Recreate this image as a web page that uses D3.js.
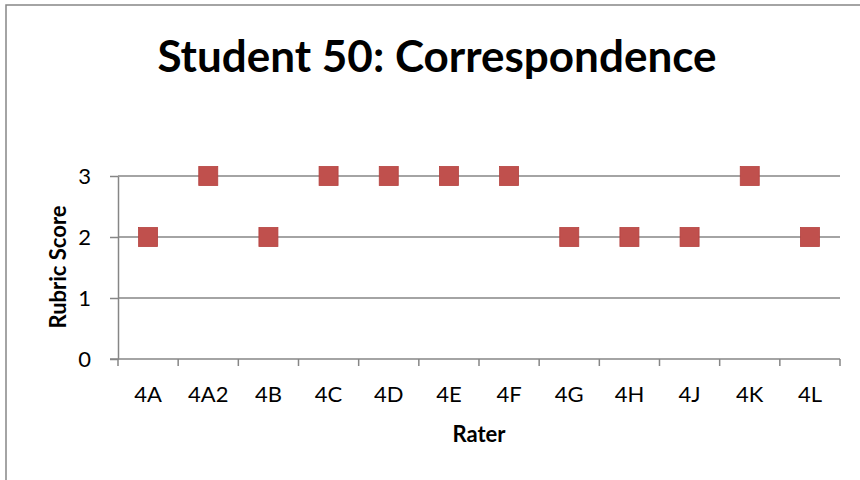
<!DOCTYPE html>
<html>
<head>
<meta charset="utf-8">
<script src="https://cdn.jsdelivr.net/npm/d3@7"></script>
<style>
  body { margin: 0; background: #fff; }
  svg { display: block; font-family: Lato, "Open Sans", sans-serif; }
</style>
</head>
<body>
<svg id="chart" width="860" height="480"></svg>
<script>
// Rubric scores given by each rater
const raters = ["4A", "4A2", "4B", "4C", "4D", "4E", "4F", "4G", "4H", "4J", "4K", "4L"];
const scores = [2, 3, 2, 3, 3, 3, 3, 2, 2, 2, 3, 2];
const yTicks = [0, 1, 2, 3];
const titleText = "Student 50: Correspondence";
const xTitle = "Rater";
const yTitle = "Rubric Score";

const svg = d3.select("#chart");
const plot = { left: 118, right: 840, top: 176, bottom: 359 };
const axisColor = "#868686";
const labelSize = 22;

// chart frame
svg.append("rect")
  .attr("x", 6).attr("y", 5).attr("width", 900).attr("height", 520)
  .attr("fill", "#fff").attr("stroke", axisColor).attr("stroke-width", 1.5);

const x = d3.scaleBand().domain(raters).range([plot.left, plot.right]);
const y = d3.scaleLinear().domain([0, 3]).range([plot.bottom, plot.top]);

// horizontal gridlines
svg.append("g")
  .selectAll("line").data(yTicks.filter(d => d > 0)).join("line")
  .attr("x1", plot.left).attr("x2", plot.right)
  .attr("y1", d => y(d)).attr("y2", d => y(d))
  .attr("stroke", axisColor).attr("stroke-width", 1.5);

// y axis
const yAxis = svg.append("g")
  .attr("transform", `translate(${plot.left},0)`)
  .call(d3.axisLeft(y).tickValues(yTicks).tickSize(8).tickSizeOuter(0).tickPadding(19).tickFormat(d3.format("d")));
yAxis.attr("font-family", null).attr("font-size", null);
yAxis.select(".domain").attr("stroke", axisColor).attr("stroke-width", 1.5);
yAxis.selectAll(".tick line").attr("stroke", axisColor).attr("stroke-width", 1.5);
yAxis.selectAll(".tick text").attr("font-size", labelSize).attr("fill", "#000");

// x axis with ticks at category boundaries
const xAxisG = svg.append("g").attr("transform", `translate(0,${plot.bottom})`);
xAxisG.append("line")
  .attr("x1", plot.left - 8).attr("x2", plot.right)
  .attr("stroke", axisColor).attr("stroke-width", 1.5);
const bounds = raters.map(r => x(r)).concat([x(raters[raters.length - 1]) + x.bandwidth()]);
xAxisG.selectAll("line.tk").data(bounds).join("line").attr("class", "tk")
  .attr("x1", d => d).attr("x2", d => d).attr("y1", 0).attr("y2", 7)
  .attr("stroke", axisColor).attr("stroke-width", 1.5);
xAxisG.selectAll("text").data(raters).join("text")
  .attr("x", d => x(d) + x.bandwidth() / 2)
  .attr("y", 43)
  .attr("text-anchor", "middle")
  .attr("font-size", labelSize)
  .attr("fill", "#000")
  .text(d => d);

// markers
const size = 19;
svg.append("g").selectAll("rect").data(raters).join("rect")
  .attr("x", d => x(d) + x.bandwidth() / 2 - size / 2)
  .attr("y", (d, i) => y(scores[i]) - size / 2)
  .attr("width", size).attr("height", size)
  .attr("fill", "#C0504D")
  .attr("stroke", "#B5413F").attr("stroke-width", 0.8);

// titles
svg.append("text")
  .attr("x", 437).attr("y", 72)
  .attr("text-anchor", "middle")
  .attr("font-size", 44).attr("font-weight", "bold")
  .attr("fill", "#000")
  .text(titleText);

svg.append("text")
  .attr("x", 479).attr("y", 442)
  .attr("text-anchor", "middle")
  .attr("font-size", labelSize).attr("font-weight", "bold")
  .attr("fill", "#000")
  .text(xTitle);

svg.append("text")
  .attr("transform", `translate(66,267) rotate(-90)`)
  .attr("text-anchor", "middle")
  .attr("font-size", labelSize).attr("font-weight", "bold")
  .attr("fill", "#000")
  .text(yTitle);
</script>
</body>
</html>
